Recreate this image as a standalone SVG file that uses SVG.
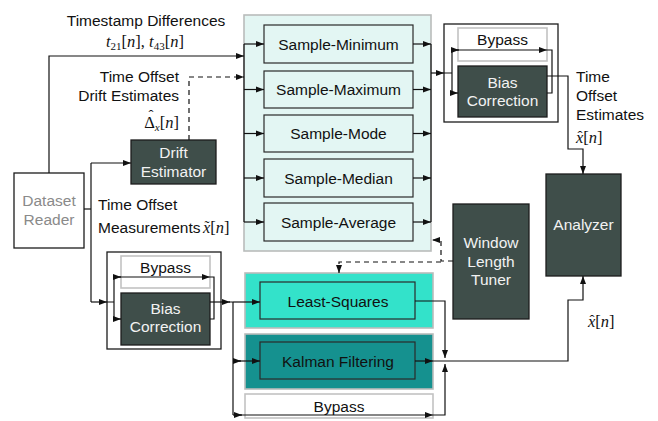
<svg xmlns="http://www.w3.org/2000/svg" width="658" height="421" viewBox="0 0 658 421">
  <style>
    .t { font-family: "Liberation Sans", Arial, sans-serif; font-size: 15.5px; fill: #111; }
    .tc { text-anchor: middle; }
    .te { text-anchor: end; }
    .tw { fill: #f2f2f2; }
    .tg { fill: #8a8a8a; }
    .m { font-family: "Liberation Serif", "Times New Roman", serif; font-size: 16.5px; fill: #111; }
    .i { font-style: italic; }
    .acc { font-family: "Liberation Serif", "Times New Roman", serif; font-size: 15px; fill: #111; text-anchor: middle; }
    .sub { font-size: 11px; }
    .dark { fill: #3f4e4a; stroke: #1c1c1c; stroke-width: 1.3; }
    .plain { fill: #ffffff; stroke: #1c1c1c; stroke-width: 1.3; }
    .group { fill: #e3f6f3; stroke: #b9bcbb; stroke-width: 1.6; }
    .inner { fill: none; stroke: #2a2a2a; stroke-width: 1.2; }
    .byp { fill: #ffffff; stroke: #c2c2c2; stroke-width: 1.6; }
    .ln { fill: none; stroke: #111; stroke-width: 1.2; }
    .arr { marker-end: url(#ah); }
    .dash { stroke-dasharray: 5 4; }
  </style>
  <defs>
    <marker id="ah" markerUnits="userSpaceOnUse" markerWidth="9" markerHeight="8" refX="8" refY="4" orient="auto">
      <path d="M0,1 L8,4 L0,7 Z" fill="#111"/>
    </marker>
  </defs>

  <rect width="658" height="421" fill="#ffffff"/>

  <!-- statistic blocks -->
  <g id="sample-group">
    <rect class="group" x="244" y="15" width="187" height="236"/>
  </g>
  <g id="sample-minimum">
    <rect class="inner" x="264" y="25" width="149" height="38"/>
    <text class="t tc" x="338.5" y="49.5">Sample-Minimum</text>
  </g>
  <g id="sample-maximum">
    <rect class="inner" x="264" y="71" width="149" height="37"/>
    <text class="t tc" x="338.5" y="95">Sample-Maximum</text>
  </g>
  <g id="sample-mode">
    <rect class="inner" x="264" y="115" width="149" height="37"/>
    <text class="t tc" x="338.5" y="139">Sample-Mode</text>
  </g>
  <g id="sample-median">
    <rect class="inner" x="264" y="159" width="149" height="38"/>
    <text class="t tc" x="338.5" y="183.5">Sample-Median</text>
  </g>
  <g id="sample-average">
    <rect class="inner" x="264" y="203" width="149" height="38"/>
    <text class="t tc" x="338.5" y="227.5">Sample-Average</text>
  </g>

  <!-- filters -->
  <g id="least-squares">
    <rect x="245" y="273" width="188" height="55" fill="#33e2ca" stroke="#b9bcbb" stroke-width="1.6"/>
    <rect class="inner" x="260" y="282" width="155" height="37"/>
    <text class="t tc" x="338" y="306.5">Least-Squares</text>
  </g>
  <g id="kalman-filtering">
    <rect x="245" y="334" width="188" height="55" fill="#15918f" stroke="#b9bcbb" stroke-width="1.6"/>
    <rect class="inner" x="260" y="342" width="155" height="37"/>
    <text class="t tc" x="338" y="366.5">Kalman Filtering</text>
  </g>
  <g id="bypass-bottom">
    <rect class="byp" x="245" y="394" width="188" height="24"/>
    <text class="t tc" x="339" y="412">Bypass</text>
  </g>

  <!-- sources -->
  <g id="dataset-reader">
    <rect class="plain" x="14" y="173" width="70" height="75"/>
    <text class="t tc tg" x="49" y="206">Dataset</text>
    <text class="t tc tg" x="49" y="225">Reader</text>
  </g>
  <g id="drift-estimator">
    <rect class="dark" x="131" y="140" width="85" height="44"/>
    <text class="t tc tw" x="173.5" y="158">Drift</text>
    <text class="t tc tw" x="173.5" y="177">Estimator</text>
  </g>

  <!-- bias correction stages -->
  <g id="bias-top">
    <rect class="plain" x="444" y="24" width="114" height="98"/>
    <rect class="byp" x="458" y="28" width="89" height="33"/>
    <text class="t tc" x="502.5" y="45">Bypass</text>
    <rect class="dark" x="458" y="66" width="89" height="51"/>
    <text class="t tc tw" x="502.5" y="88">Bias</text>
    <text class="t tc tw" x="502.5" y="106">Correction</text>
  </g>
  <g id="bias-left">
    <rect class="plain" x="107" y="252" width="114" height="97"/>
    <rect class="byp" x="121" y="256" width="89" height="32"/>
    <text class="t tc" x="165.5" y="273">Bypass</text>
    <rect class="dark" x="121" y="293" width="89" height="52"/>
    <text class="t tc tw" x="165.5" y="314">Bias</text>
    <text class="t tc tw" x="165.5" y="332">Correction</text>
  </g>

  <!-- tuning and analysis -->
  <g id="window-length-tuner">
    <rect class="dark" x="453" y="204" width="76" height="115"/>
    <text class="t tc tw" x="491" y="248">Window</text>
    <text class="t tc tw" x="491" y="267">Length</text>
    <text class="t tc tw" x="491" y="285">Tuner</text>
  </g>
  <g id="analyzer">
    <rect class="dark" x="546" y="174" width="75" height="102"/>
    <text class="t tc tw" x="583.5" y="230">Analyzer</text>
  </g>

  <!-- connectors -->
  <g id="connectors">
    <!-- timestamp differences -->
    <path class="ln arr" d="M49,173 V56 H244"/>
    <!-- drift estimates -->
    <path class="ln arr dash" d="M189,140 V77 H244"/>
    <!-- measurements split -->
    <path class="ln" d="M84,209 H91"/>
    <path class="ln" d="M91,163 V302"/>
    <path class="ln arr" d="M91,163 H131"/>
    <path class="ln arr" d="M91,302 H107"/>

    <!-- distribution bus into statistic blocks -->
    <path class="ln" d="M244,44 V222"/>
    <path class="ln arr" d="M244,44 H264"/>
    <path class="ln arr" d="M244,89.5 H264"/>
    <path class="ln arr" d="M244,133.5 H264"/>
    <path class="ln arr" d="M244,178 H264"/>
    <path class="ln arr" d="M244,222 H264"/>

    <!-- collecting bus out of statistic blocks -->
    <path class="ln" d="M431,44 V222"/>
    <path class="ln arr" d="M413,44 H431"/>
    <path class="ln arr" d="M413,89.5 H431"/>
    <path class="ln arr" d="M413,133.5 H431"/>
    <path class="ln arr" d="M413,178 H431"/>
    <path class="ln arr" d="M413,222 H431"/>
    <path class="ln arr" d="M431,73 H444"/>

    <!-- top bias stage internals -->
    <path class="ln" d="M444,73 H452 M452,50 V93"/>
    <path class="ln arr" d="M452,50 H459"/>
    <path class="ln arr" d="M457,50 H547"/>
    <path class="ln arr" d="M452,93 H458"/>
    <path class="ln" d="M547,50 H552 V93 H547"/>
    <!-- time offset estimates to analyzer -->
    <path class="ln arr" d="M547,76 H568 V149 H583 V174"/>

    <!-- left bias stage internals -->
    <path class="ln" d="M107,302 H114 M114,277 V319"/>
    <path class="ln arr" d="M114,277 H121"/>
    <path class="ln arr" d="M119,277 H210"/>
    <path class="ln arr" d="M114,319 H121"/>
    <path class="ln" d="M210,277 H214 V319 H210"/>
    <path class="ln arr" d="M210,302 H230"/>
    <path class="ln" d="M229,302 H233 M233,302 V415"/>

    <!-- filter inputs -->
    <path class="ln arr" d="M233,302 H260"/>
    <path class="ln arr" d="M233,361 H241"/>
    <path class="ln arr" d="M239,361 H260"/>
    <path class="ln arr" d="M233,415 H242"/>
    <path class="ln arr" d="M240,415 H433"/>

    <!-- filter outputs -->
    <path class="ln arr" d="M415,301 H445 V358"/>
    <path class="ln arr" d="M415,361 H433"/>
    <path class="ln arr" d="M433,361 H568 V300 H583 V276"/>
    <path class="ln arr" d="M433,415 H445 V364"/>

    <!-- window length tuning -->
    <path class="ln arr dash" d="M453,261 H441 V240 H432"/>
    <path class="ln arr dash" d="M441,262 H339 V273"/>
  </g>

  <!-- signal labels -->
  <g id="labels">
    <text class="t tc" x="146" y="26">Timestamp Differences</text>
    <text class="m" x="106" y="47"><tspan class="i">t</tspan><tspan class="sub" dy="3">21</tspan><tspan dy="-3">[</tspan><tspan class="i">n</tspan><tspan>], </tspan><tspan class="i">t</tspan><tspan class="sub" dy="3">43</tspan><tspan dy="-3">[</tspan><tspan class="i">n</tspan><tspan>]</tspan></text>

    <text class="t te" x="179" y="82">Time Offset</text>
    <text class="t te" x="179" y="101">Drift Estimates</text>
    <text class="m te" x="179" y="128">Δ<tspan class="sub i" dy="3">x</tspan><tspan dy="-3">[</tspan><tspan class="i">n</tspan><tspan>]</tspan></text>
    <text class="acc" x="151" y="120">ˆ</text>

    <text class="t" x="98" y="210">Time Offset</text>
    <text class="t" x="98" y="233">Measurements</text>
    <text class="m" x="203" y="233"><tspan class="i">x</tspan>[<tspan class="i">n</tspan>]</text>
    <text class="acc" x="207" y="231">˜</text>

    <text class="t" x="576" y="82">Time</text>
    <text class="t" x="576" y="101">Offset</text>
    <text class="t" x="576" y="120">Estimates</text>
    <text class="m" x="576" y="143"><tspan class="i">x</tspan>[<tspan class="i">n</tspan>]</text>
    <text class="acc" x="580" y="141">ˆ</text>

    <text class="m" x="588" y="327"><tspan class="i">x</tspan>[<tspan class="i">n</tspan>]</text>
    <text class="acc" x="592" y="325">ˆ</text>
  </g>
</svg>
